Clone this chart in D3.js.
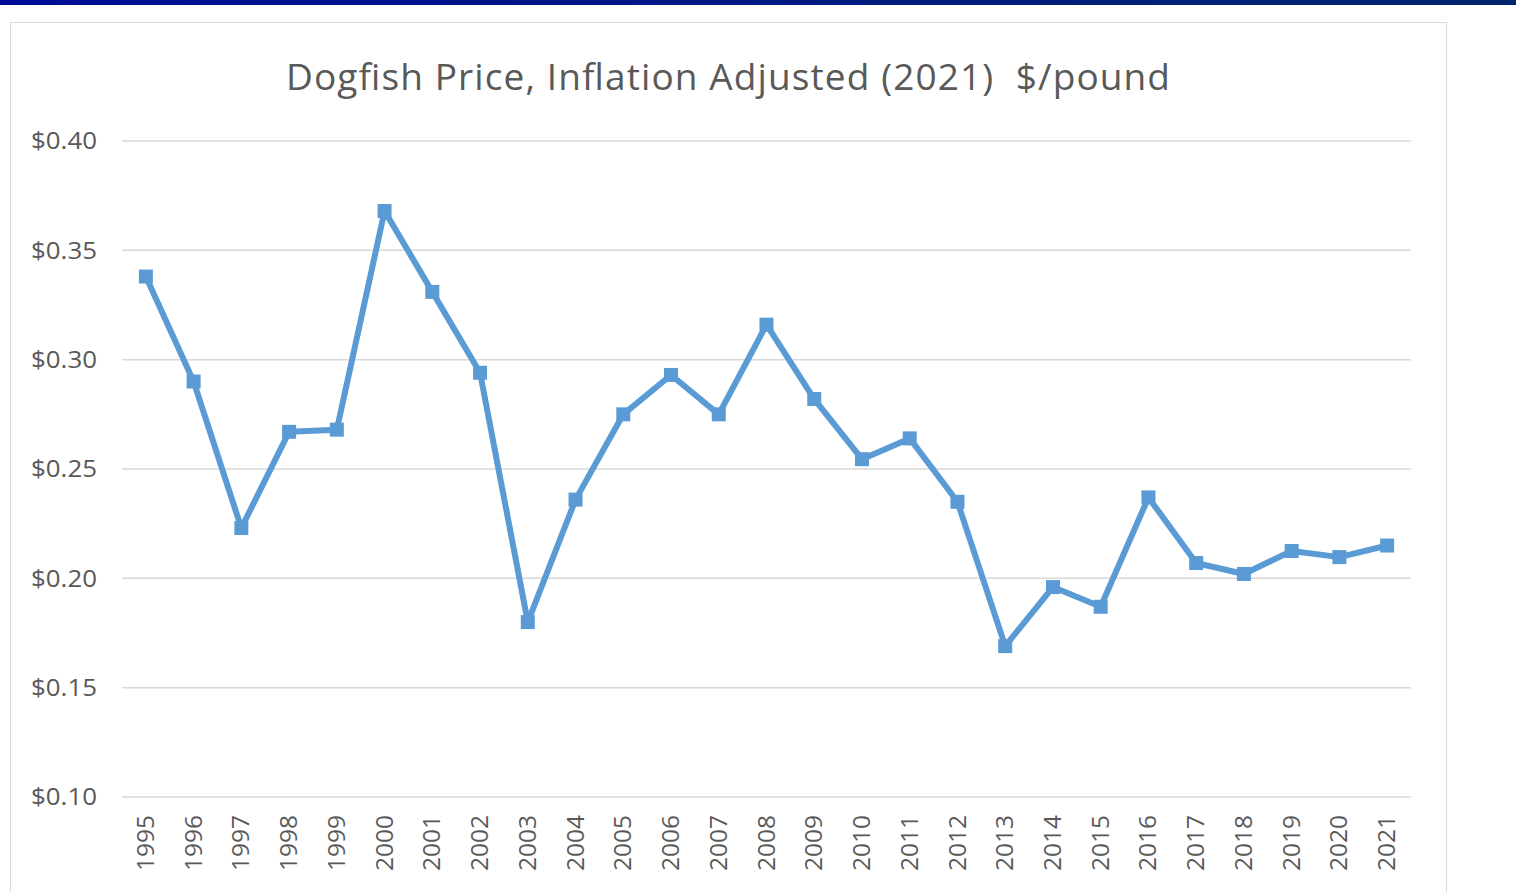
<!DOCTYPE html>
<html>
<head>
<meta charset="utf-8">
<script src="https://cdn.jsdelivr.net/npm/d3@7"></script>
<style>
  body { margin: 0; background: #fff; }
  svg { display: block; }
</style>
</head>
<body>
<svg id="chart" width="1516" height="892"></svg>
<script>
// years and inflation adjusted price ($/pound)
const years = ["1995","1996","1997","1998","1999","2000","2001","2002","2003","2004",
  "2005","2006","2007","2008","2009","2010","2011","2012","2013","2014",
  "2015","2016","2017","2018","2019","2020","2021"];
const prices = [0.338, 0.290, 0.223, 0.267, 0.268, 0.368, 0.331, 0.294, 0.180, 0.236,
  0.275, 0.293, 0.275, 0.316, 0.282, 0.2545, 0.264, 0.235, 0.169, 0.196,
  0.187, 0.237, 0.207, 0.202, 0.2125, 0.2097, 0.215];
const yTicks = [0.10, 0.15, 0.20, 0.25, 0.30, 0.35, 0.40];
const title = "Dogfish Price, Inflation Adjusted (2021)  $/pound";

const data = years.map((y, i) => ({ year: y, price: prices[i] }));

const svg = d3.select("svg#chart");
const font = "'Open Sans', 'DejaVu Sans', sans-serif";

// top banner
const grad = svg.append("defs").append("linearGradient").attr("id", "band");
grad.append("stop").attr("offset", "0%").attr("stop-color", "#000c96");
grad.append("stop").attr("offset", "100%").attr("stop-color", "#01256e");
svg.append("rect").attr("x", 0).attr("y", 0).attr("width", 1516).attr("height", 5)
  .attr("fill", "url(#band)");

// chart frame
svg.append("rect").attr("x", 10.5).attr("y", 22.5).attr("width", 1436).attr("height", 880)
  .attr("fill", "#fff").attr("stroke", "#d9d9d9").attr("stroke-width", 1);

const x = d3.scaleBand().domain(years).range([122, 1411]);
const y = d3.scaleLinear().domain([0.10, 0.40]).range([797, 141]);

// gridlines
svg.append("g")
  .selectAll("line")
  .data(yTicks)
  .join("line")
  .attr("x1", 122).attr("x2", 1411)
  .attr("y1", d => y(d)).attr("y2", d => y(d))
  .attr("stroke", "#d9d9d9").attr("stroke-width", 1.5);

// y axis labels
svg.append("g")
  .selectAll("text")
  .data(yTicks)
  .join("text")
  .attr("x", 97).attr("y", d => y(d))
  .attr("dy", "0.35em")
  .attr("text-anchor", "end")
  .attr("font-family", font).attr("font-size", 24)
  .attr("textLength", 66).attr("lengthAdjust", "spacingAndGlyphs")
  .attr("fill", "#595959")
  .text(d => "$" + d.toFixed(2));

// x axis labels, rotated
svg.append("g")
  .selectAll("text")
  .data(years)
  .join("text")
  .attr("transform", d => `translate(${x(d) + x.bandwidth() / 2},815) rotate(-90)`)
  .attr("dy", "0.35em")
  .attr("text-anchor", "end")
  .attr("font-family", font).attr("font-size", 23)
  .attr("textLength", 56).attr("lengthAdjust", "spacingAndGlyphs")
  .attr("fill", "#595959")
  .text(d => d);

// title
svg.append("text")
  .attr("x", 728).attr("y", 90)
  .attr("text-anchor", "middle")
  .attr("font-family", font).attr("font-size", 37)
  .attr("textLength", 884).attr("lengthAdjust", "spacing")
  .attr("fill", "#595959")
  .style("white-space", "pre")
  .text(title);

// line
const line = d3.line()
  .x(d => x(d.year) + x.bandwidth() / 2)
  .y(d => y(d.price));

svg.append("path")
  .datum(data)
  .attr("d", line)
  .attr("fill", "none")
  .attr("stroke", "#5b9bd5")
  .attr("stroke-width", 6)
  .attr("stroke-linejoin", "round");

// square markers
const s = 14;
svg.append("g")
  .selectAll("rect")
  .data(data)
  .join("rect")
  .attr("x", d => x(d.year) + x.bandwidth() / 2 - s / 2)
  .attr("y", d => y(d.price) - s / 2)
  .attr("width", s).attr("height", s)
  .attr("fill", "#5b9bd5");
</script>
</body>
</html>
